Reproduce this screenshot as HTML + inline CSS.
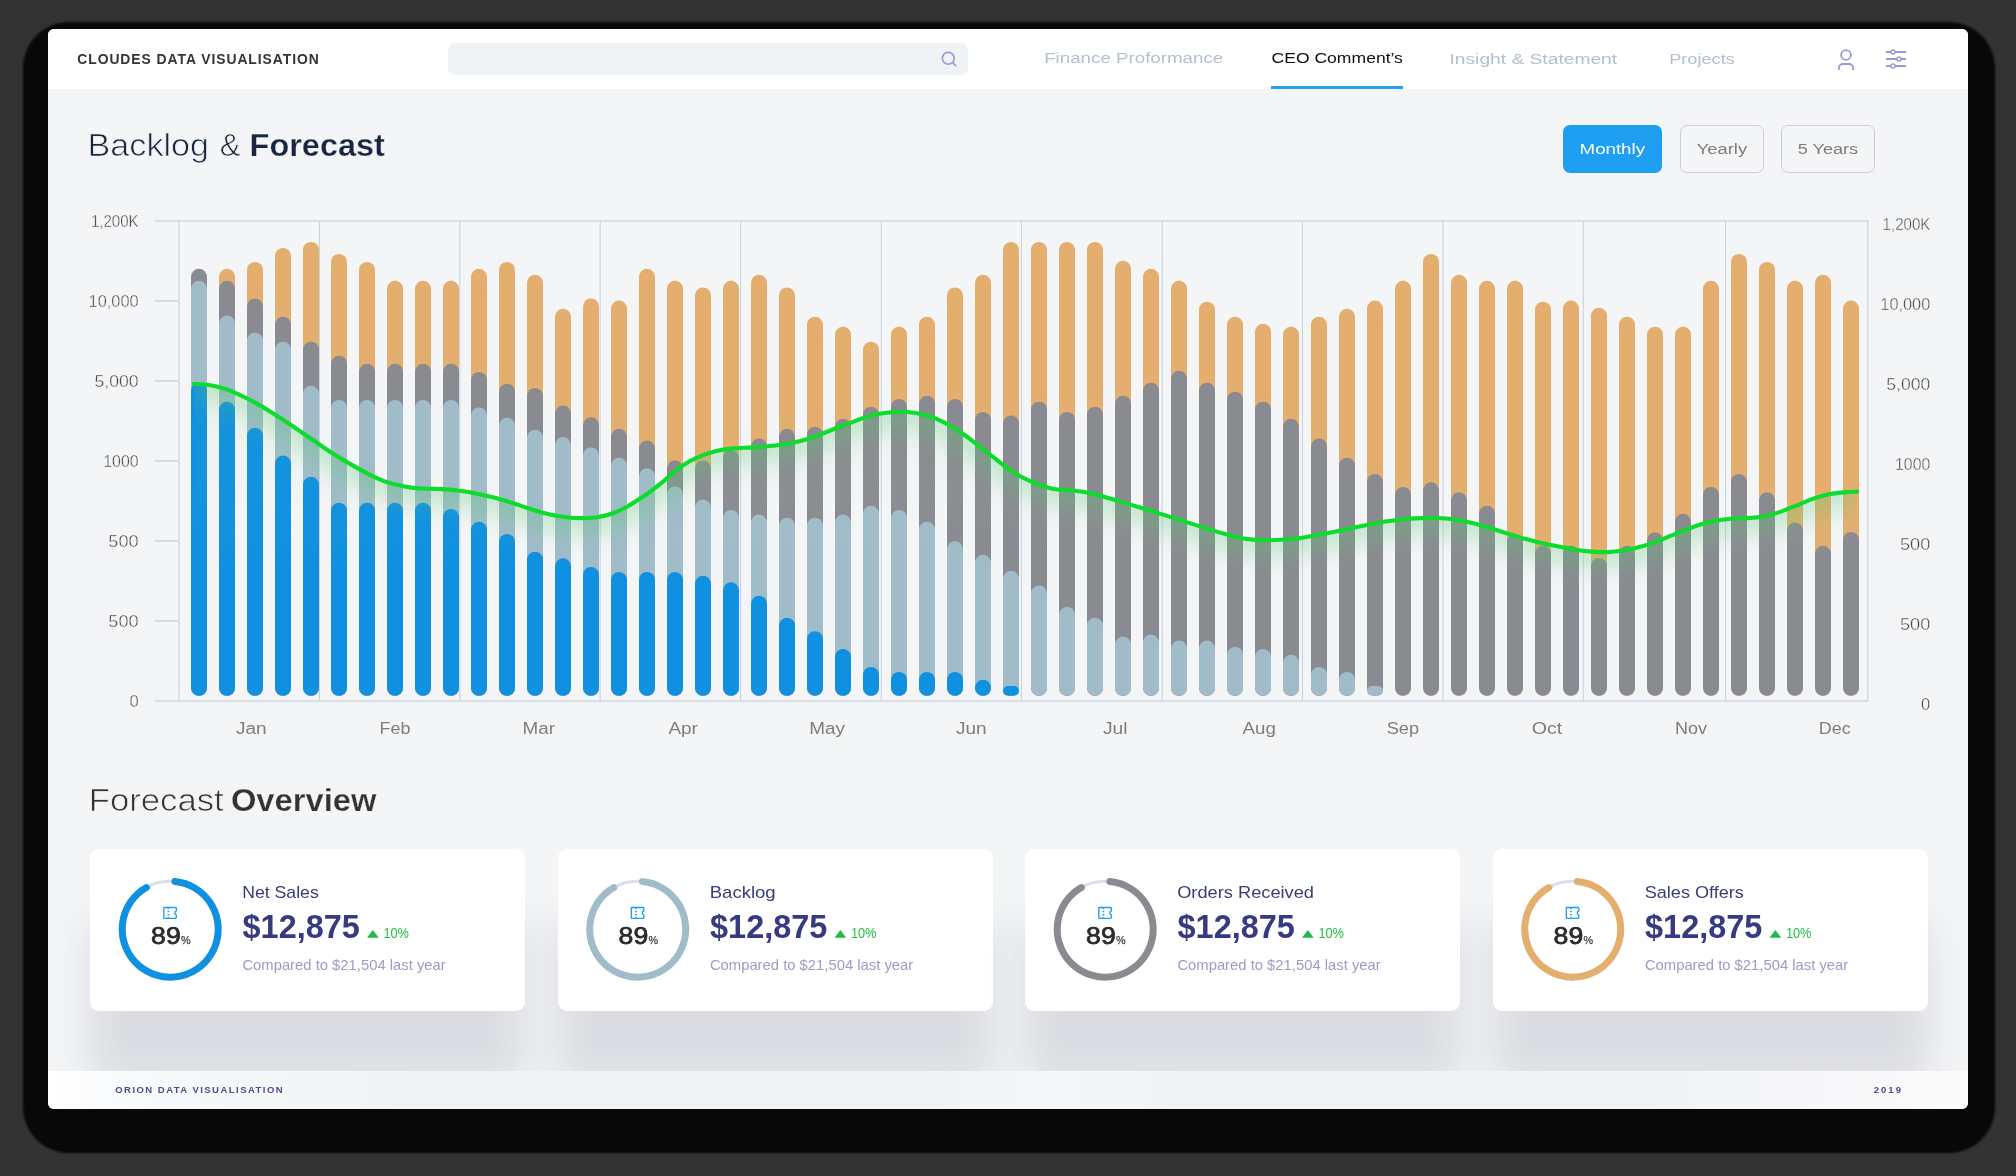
<!DOCTYPE html>
<html><head><meta charset="utf-8"><title>Cloudes Data Visualisation</title>
<style>
html,body{margin:0;padding:0}
body{width:2016px;height:1176px;background:#333;overflow:hidden;position:relative;font-family:"Liberation Sans",sans-serif}
#panel{position:absolute;left:48px;top:29px;width:1920px;height:1080px;background:#f4f5f7;border-radius:6px;overflow:hidden}
#shadow{position:absolute;left:22.5px;top:22px;width:1972px;height:1131px;border-radius:46px;background:#080808;filter:blur(1.2px)}
#hdr{position:absolute;left:0;top:0;width:1920px;height:60px;background:#fff}
#search{position:absolute;left:400px;top:14px;width:520px;height:32px;border-radius:7px;background:#eff3f6}
#uline{position:absolute;left:1223px;top:57px;width:132px;height:3px;background:#1da1f2}
.btn{position:absolute;top:96px;height:48px;border-radius:7px;box-sizing:border-box}
.card{position:absolute;top:820px;width:435px;height:161.5px;border-radius:9px;background:#fff;box-shadow:0 74px 40px 0 rgba(40,44,70,.125)}
#ftr{position:absolute;left:0;top:1042px;width:1920px;height:38px;background:linear-gradient(90deg,#fff 0,#fafbfc 3%,#f6f7f9 8%,#f1f2f4 20%,#f1f2f4 45%,#f5f6f8 52%,#f1f2f4 60%,#f2f3f5 85%,#fbfbfc 100%)}
text{font-family:"Liberation Sans",sans-serif}
</style></head><body>
<div id="shadow"></div>
<div id="panel">
 <div id="hdr"></div>
 <div id="search"></div>
 <div id="uline"></div>
 <div class="btn" style="left:1515px;width:99px;background:#1e9ff2"></div>
 <div class="btn" style="left:1632px;width:84px;border:1.2px solid #cfcfd1"></div>
 <div class="btn" style="left:1733px;width:94px;border:1.2px solid #cfcfd1"></div>
 <div class="card" style="left:42px"></div>
 <div class="card" style="left:509.5px"></div>
 <div class="card" style="left:977px"></div>
 <div class="card" style="left:1444.5px"></div>
 <div id="ftr"></div>
</div>
<svg width="2016" height="1176" viewBox="0 0 2016 1176" style="position:absolute;left:0;top:0;will-change:transform">
<defs>
<clipPath id="ca"><path d="M193.9,383.9C196.4,384.1 203.2,384.2 208.7,385.1C214.2,386.0 221.3,387.7 226.7,389.4C232.1,391.1 236.2,393.3 240.9,395.5C245.6,397.7 250.4,400.0 255.1,402.6C259.8,405.2 264.6,408.0 269.3,410.9C274.0,413.8 278.8,416.9 283.5,420.0C288.2,423.1 293.0,426.4 297.7,429.6C302.4,432.8 307.2,436.1 311.9,439.3C316.6,442.5 321.3,445.9 326.0,449.0C330.7,452.1 335.5,455.1 340.2,458.0C344.9,460.9 349.7,463.7 354.4,466.4C359.1,469.1 363.9,471.7 368.6,474.1C373.3,476.5 378.1,478.8 382.8,480.6C387.5,482.4 392.3,483.6 397.0,484.8C401.7,486.0 406.0,487.0 411.2,487.6C416.4,488.2 423.2,488.4 428.4,488.7C433.6,488.9 437.9,488.8 442.6,489.1C447.3,489.4 452.0,489.8 456.7,490.4C461.4,491.0 466.2,491.6 470.9,492.5C475.6,493.4 480.4,494.4 485.1,495.5C489.8,496.6 494.6,497.7 499.3,499.0C504.0,500.3 508.8,501.8 513.5,503.3C518.2,504.8 523.0,506.5 527.7,508.0C532.4,509.5 537.2,511.2 541.9,512.5C546.6,513.8 551.3,514.9 556.0,515.8C560.7,516.7 565.5,517.3 570.2,517.7C574.9,518.1 579.7,518.2 584.4,518.1C589.1,518.0 593.9,517.8 598.6,517.0C603.3,516.2 608.1,514.9 612.8,513.2C617.5,511.5 622.3,509.3 627.0,506.7C631.7,504.1 637.9,499.8 641.2,497.7C644.5,495.6 643.7,496.4 647.0,494.0C650.3,491.6 656.5,487.1 661.2,483.2C665.9,479.3 670.7,474.5 675.4,470.9C680.1,467.2 685.0,463.9 689.6,461.3C694.2,458.7 698.5,456.9 703.1,455.1C707.7,453.3 712.7,451.8 717.3,450.7C721.9,449.6 726.1,449.1 730.9,448.6C735.7,448.1 741.6,447.9 746.3,447.7C751.0,447.4 754.9,447.4 759.2,447.1C763.5,446.8 768.1,446.2 772.1,445.8C776.1,445.4 779.3,445.2 783.0,444.6C786.7,444.1 790.0,443.5 794.2,442.5C798.4,441.5 803.7,440.2 808.4,438.7C813.1,437.2 817.9,435.3 822.6,433.5C827.3,431.7 832.0,429.8 836.7,428.0C841.4,426.2 846.2,424.4 850.9,422.6C855.6,420.8 860.4,418.9 865.1,417.4C869.8,415.9 874.6,414.7 879.3,413.8C884.0,412.9 888.8,412.3 893.5,412.0C898.2,411.7 903.0,411.6 907.7,412.0C912.4,412.4 917.2,413.1 921.9,414.2C926.6,415.3 931.3,416.8 936.0,418.7C940.7,420.6 945.5,423.1 950.2,425.8C954.9,428.5 959.7,431.5 964.4,434.8C969.1,438.1 973.9,442.2 978.6,445.8C983.3,449.4 988.1,453.1 992.8,456.7C997.5,460.3 1002.3,464.4 1007.0,467.7C1011.7,471.0 1016.5,474.1 1021.2,476.7C1025.9,479.3 1030.5,481.3 1035.3,483.2C1040.1,485.1 1046.3,487.1 1050.3,488.2C1054.3,489.3 1056.3,489.3 1059.3,489.6C1062.3,489.9 1064.5,489.8 1068.4,490.2C1072.3,490.6 1077.9,491.0 1082.6,491.8C1087.3,492.6 1092.0,493.7 1096.7,494.8C1101.4,495.9 1106.2,497.4 1110.9,498.7C1115.6,500.0 1120.4,501.5 1125.1,502.9C1129.8,504.3 1134.6,505.9 1139.3,507.3C1144.0,508.8 1148.8,510.1 1153.5,511.6C1158.2,513.1 1163.0,514.6 1167.7,516.1C1172.4,517.6 1177.2,519.1 1181.9,520.6C1186.6,522.1 1191.3,523.6 1196.0,525.1C1200.7,526.6 1205.5,528.2 1210.2,529.6C1214.9,531.0 1219.7,532.5 1224.4,533.8C1229.1,535.1 1233.9,536.4 1238.6,537.4C1243.3,538.4 1248.1,539.1 1252.8,539.6C1257.5,540.1 1262.3,540.3 1267.0,540.3C1271.7,540.3 1275.7,540.1 1281.2,539.7C1286.7,539.3 1294.5,538.7 1300.0,538.0C1305.5,537.3 1309.5,536.2 1314.2,535.4C1318.9,534.5 1323.7,533.8 1328.4,532.9C1333.1,532.0 1337.9,531.0 1342.6,530.0C1347.3,529.0 1352.0,528.1 1356.7,527.1C1361.4,526.1 1366.2,525.1 1370.9,524.2C1375.6,523.3 1380.4,522.4 1385.1,521.6C1389.8,520.9 1394.6,520.2 1399.3,519.7C1404.0,519.2 1408.8,518.7 1413.5,518.4C1418.2,518.1 1423.0,518.0 1427.7,518.0C1432.4,518.0 1437.2,518.0 1441.9,518.3C1446.6,518.6 1451.3,519.0 1456.0,519.7C1460.7,520.4 1465.5,521.4 1470.2,522.5C1474.9,523.6 1479.7,525.0 1484.4,526.4C1489.1,527.8 1493.9,529.2 1498.6,530.7C1503.3,532.2 1508.1,533.7 1512.8,535.1C1517.5,536.5 1522.3,538.0 1527.0,539.3C1531.7,540.6 1535.7,541.7 1541.2,542.9C1546.7,544.1 1554.2,545.6 1560.0,546.7C1565.8,547.8 1570.6,548.9 1575.9,549.7C1581.2,550.5 1586.4,551.2 1591.7,551.6C1597.0,552.0 1602.3,552.3 1607.6,552.1C1612.9,551.9 1618.2,551.3 1623.5,550.5C1628.8,549.7 1634.1,548.5 1639.4,547.1C1644.7,545.7 1649.9,544.0 1655.2,542.1C1660.5,540.2 1665.8,537.8 1671.1,535.7C1676.4,533.6 1681.7,531.4 1687.0,529.4C1692.3,527.4 1697.6,525.3 1702.9,523.8C1708.2,522.3 1713.4,521.1 1718.7,520.2C1724.0,519.3 1729.3,519.0 1734.6,518.6C1739.9,518.2 1745.2,518.4 1750.5,517.9C1755.8,517.4 1761.0,517.0 1766.3,515.9C1771.6,514.8 1776.9,513.0 1782.2,511.1C1787.5,509.2 1792.8,506.9 1798.1,504.8C1803.4,502.7 1808.7,500.2 1814.0,498.4C1819.3,496.6 1824.5,495.2 1829.8,494.1C1835.1,493.1 1841.2,492.5 1845.7,492.1C1850.2,491.7 1855.1,491.7 1857.0,491.6L1857,700L193.9,700Z"/></clipPath>
<filter id="bl" x="-5%" y="-50%" width="110%" height="250%"><feGaussianBlur stdDeviation="12"/></filter>
<linearGradient id="ag" x1="0" y1="380" x2="0" y2="700" gradientUnits="userSpaceOnUse"><stop offset="0" stop-color="#58c474" stop-opacity=".06"/><stop offset=".6" stop-color="#e8f2ec" stop-opacity=".0"/></linearGradient>
</defs>
<g stroke="#cfd7e6" stroke-width="1.6" fill="none">
<path d="M155,221H1868.5M155,701H1868.5"/>
<path d="M155,301H179"/>
<path d="M155,381H179"/>
<path d="M155,461H179"/>
<path d="M155,541H179"/>
<path d="M155,621H179"/>
</g>
<g stroke="#c6d0e2" stroke-width="1" fill="none">
<path d="M179.0,221V701"/>
<path d="M319.4,221V701"/>
<path d="M459.8,221V701"/>
<path d="M600.2,221V701"/>
<path d="M740.6,221V701"/>
<path d="M881.2,221V701"/>
<path d="M1021.4,221V701"/>
<path d="M1162.2,221V701"/>
<path d="M1302.4,221V701"/>
<path d="M1443.0,221V701"/>
<path d="M1583.3,221V701"/>
<path d="M1725.6,221V701"/>
<path d="M1867.8,221V701"/>
</g>
<rect x="219.0" y="268.8" width="16" height="427.0" rx="8.0" fill="#e3ae6e"/>
<rect x="247.0" y="261.9" width="16" height="433.9" rx="8.0" fill="#e3ae6e"/>
<rect x="275.0" y="247.9" width="16" height="447.9" rx="8.0" fill="#e3ae6e"/>
<rect x="303.0" y="241.9" width="16" height="453.9" rx="8.0" fill="#e3ae6e"/>
<rect x="331.0" y="254.0" width="16" height="441.8" rx="8.0" fill="#e3ae6e"/>
<rect x="359.0" y="261.9" width="16" height="433.9" rx="8.0" fill="#e3ae6e"/>
<rect x="387.0" y="280.8" width="16" height="415.0" rx="8.0" fill="#e3ae6e"/>
<rect x="415.0" y="280.8" width="16" height="415.0" rx="8.0" fill="#e3ae6e"/>
<rect x="443.0" y="280.8" width="16" height="415.0" rx="8.0" fill="#e3ae6e"/>
<rect x="471.0" y="268.8" width="16" height="427.0" rx="8.0" fill="#e3ae6e"/>
<rect x="499.0" y="261.9" width="16" height="433.9" rx="8.0" fill="#e3ae6e"/>
<rect x="527.0" y="274.8" width="16" height="421.0" rx="8.0" fill="#e3ae6e"/>
<rect x="555.0" y="308.8" width="16" height="387.0" rx="8.0" fill="#e3ae6e"/>
<rect x="583.0" y="298.5" width="16" height="397.3" rx="8.0" fill="#e3ae6e"/>
<rect x="611.0" y="300.6" width="16" height="395.2" rx="8.0" fill="#e3ae6e"/>
<rect x="639.0" y="268.8" width="16" height="427.0" rx="8.0" fill="#e3ae6e"/>
<rect x="667.0" y="280.8" width="16" height="415.0" rx="8.0" fill="#e3ae6e"/>
<rect x="695.0" y="287.5" width="16" height="408.3" rx="8.0" fill="#e3ae6e"/>
<rect x="723.0" y="280.8" width="16" height="415.0" rx="8.0" fill="#e3ae6e"/>
<rect x="751.0" y="274.8" width="16" height="421.0" rx="8.0" fill="#e3ae6e"/>
<rect x="779.0" y="287.5" width="16" height="408.3" rx="8.0" fill="#e3ae6e"/>
<rect x="807.0" y="316.7" width="16" height="379.1" rx="8.0" fill="#e3ae6e"/>
<rect x="835.0" y="326.7" width="16" height="369.1" rx="8.0" fill="#e3ae6e"/>
<rect x="863.0" y="341.7" width="16" height="354.1" rx="8.0" fill="#e3ae6e"/>
<rect x="891.0" y="326.7" width="16" height="369.1" rx="8.0" fill="#e3ae6e"/>
<rect x="919.0" y="316.7" width="16" height="379.1" rx="8.0" fill="#e3ae6e"/>
<rect x="947.0" y="287.5" width="16" height="408.3" rx="8.0" fill="#e3ae6e"/>
<rect x="975.0" y="274.8" width="16" height="421.0" rx="8.0" fill="#e3ae6e"/>
<rect x="1003.0" y="241.9" width="16" height="453.9" rx="8.0" fill="#e3ae6e"/>
<rect x="1031.0" y="241.9" width="16" height="453.9" rx="8.0" fill="#e3ae6e"/>
<rect x="1059.0" y="241.9" width="16" height="453.9" rx="8.0" fill="#e3ae6e"/>
<rect x="1087.0" y="241.9" width="16" height="453.9" rx="8.0" fill="#e3ae6e"/>
<rect x="1115.0" y="260.8" width="16" height="435.0" rx="8.0" fill="#e3ae6e"/>
<rect x="1143.0" y="268.8" width="16" height="427.0" rx="8.0" fill="#e3ae6e"/>
<rect x="1171.0" y="280.8" width="16" height="415.0" rx="8.0" fill="#e3ae6e"/>
<rect x="1199.0" y="301.7" width="16" height="394.1" rx="8.0" fill="#e3ae6e"/>
<rect x="1227.0" y="316.7" width="16" height="379.1" rx="8.0" fill="#e3ae6e"/>
<rect x="1255.0" y="323.8" width="16" height="372.0" rx="8.0" fill="#e3ae6e"/>
<rect x="1283.0" y="326.7" width="16" height="369.1" rx="8.0" fill="#e3ae6e"/>
<rect x="1311.0" y="316.7" width="16" height="379.1" rx="8.0" fill="#e3ae6e"/>
<rect x="1339.0" y="308.8" width="16" height="387.0" rx="8.0" fill="#e3ae6e"/>
<rect x="1367.0" y="300.6" width="16" height="395.2" rx="8.0" fill="#e3ae6e"/>
<rect x="1395.0" y="280.8" width="16" height="415.0" rx="8.0" fill="#e3ae6e"/>
<rect x="1423.0" y="254.0" width="16" height="441.8" rx="8.0" fill="#e3ae6e"/>
<rect x="1451.0" y="274.8" width="16" height="421.0" rx="8.0" fill="#e3ae6e"/>
<rect x="1479.0" y="280.8" width="16" height="415.0" rx="8.0" fill="#e3ae6e"/>
<rect x="1507.0" y="280.8" width="16" height="415.0" rx="8.0" fill="#e3ae6e"/>
<rect x="1535.0" y="301.7" width="16" height="394.1" rx="8.0" fill="#e3ae6e"/>
<rect x="1563.0" y="300.6" width="16" height="395.2" rx="8.0" fill="#e3ae6e"/>
<rect x="1591.0" y="307.7" width="16" height="388.1" rx="8.0" fill="#e3ae6e"/>
<rect x="1619.0" y="316.7" width="16" height="379.1" rx="8.0" fill="#e3ae6e"/>
<rect x="1647.0" y="326.7" width="16" height="369.1" rx="8.0" fill="#e3ae6e"/>
<rect x="1675.0" y="326.7" width="16" height="369.1" rx="8.0" fill="#e3ae6e"/>
<rect x="1703.0" y="280.8" width="16" height="415.0" rx="8.0" fill="#e3ae6e"/>
<rect x="1731.0" y="254.0" width="16" height="441.8" rx="8.0" fill="#e3ae6e"/>
<rect x="1759.0" y="261.9" width="16" height="433.9" rx="8.0" fill="#e3ae6e"/>
<rect x="1787.0" y="280.8" width="16" height="415.0" rx="8.0" fill="#e3ae6e"/>
<rect x="1815.0" y="274.8" width="16" height="421.0" rx="8.0" fill="#e3ae6e"/>
<rect x="1843.0" y="300.6" width="16" height="395.2" rx="8.0" fill="#e3ae6e"/>
<rect x="191.0" y="268.8" width="16" height="427.0" rx="8.0" fill="#8a8b91"/>
<rect x="219.0" y="280.8" width="16" height="415.0" rx="8.0" fill="#8a8b91"/>
<rect x="247.0" y="298.5" width="16" height="397.3" rx="8.0" fill="#8a8b91"/>
<rect x="275.0" y="316.7" width="16" height="379.1" rx="8.0" fill="#8a8b91"/>
<rect x="303.0" y="341.7" width="16" height="354.1" rx="8.0" fill="#8a8b91"/>
<rect x="331.0" y="355.8" width="16" height="340.0" rx="8.0" fill="#8a8b91"/>
<rect x="359.0" y="363.8" width="16" height="332.0" rx="8.0" fill="#8a8b91"/>
<rect x="387.0" y="363.8" width="16" height="332.0" rx="8.0" fill="#8a8b91"/>
<rect x="415.0" y="363.8" width="16" height="332.0" rx="8.0" fill="#8a8b91"/>
<rect x="443.0" y="363.8" width="16" height="332.0" rx="8.0" fill="#8a8b91"/>
<rect x="471.0" y="371.9" width="16" height="323.9" rx="8.0" fill="#8a8b91"/>
<rect x="499.0" y="383.8" width="16" height="312.0" rx="8.0" fill="#8a8b91"/>
<rect x="527.0" y="387.9" width="16" height="307.9" rx="8.0" fill="#8a8b91"/>
<rect x="555.0" y="405.6" width="16" height="290.2" rx="8.0" fill="#8a8b91"/>
<rect x="583.0" y="417.3" width="16" height="278.5" rx="8.0" fill="#8a8b91"/>
<rect x="611.0" y="428.8" width="16" height="267.0" rx="8.0" fill="#8a8b91"/>
<rect x="639.0" y="440.6" width="16" height="255.2" rx="8.0" fill="#8a8b91"/>
<rect x="667.0" y="460.4" width="16" height="235.4" rx="8.0" fill="#8a8b91"/>
<rect x="695.0" y="460.4" width="16" height="235.4" rx="8.0" fill="#8a8b91"/>
<rect x="723.0" y="450.0" width="16" height="245.8" rx="8.0" fill="#8a8b91"/>
<rect x="751.0" y="438.5" width="16" height="257.3" rx="8.0" fill="#8a8b91"/>
<rect x="779.0" y="428.8" width="16" height="267.0" rx="8.0" fill="#8a8b91"/>
<rect x="807.0" y="426.7" width="16" height="269.1" rx="8.0" fill="#8a8b91"/>
<rect x="835.0" y="418.8" width="16" height="277.0" rx="8.0" fill="#8a8b91"/>
<rect x="863.0" y="406.7" width="16" height="289.1" rx="8.0" fill="#8a8b91"/>
<rect x="891.0" y="399.0" width="16" height="296.8" rx="8.0" fill="#8a8b91"/>
<rect x="919.0" y="395.8" width="16" height="300.0" rx="8.0" fill="#8a8b91"/>
<rect x="947.0" y="399.0" width="16" height="296.8" rx="8.0" fill="#8a8b91"/>
<rect x="975.0" y="411.9" width="16" height="283.9" rx="8.0" fill="#8a8b91"/>
<rect x="1003.0" y="415.6" width="16" height="280.2" rx="8.0" fill="#8a8b91"/>
<rect x="1031.0" y="401.7" width="16" height="294.1" rx="8.0" fill="#8a8b91"/>
<rect x="1059.0" y="411.9" width="16" height="283.9" rx="8.0" fill="#8a8b91"/>
<rect x="1087.0" y="406.7" width="16" height="289.1" rx="8.0" fill="#8a8b91"/>
<rect x="1115.0" y="395.8" width="16" height="300.0" rx="8.0" fill="#8a8b91"/>
<rect x="1143.0" y="382.7" width="16" height="313.1" rx="8.0" fill="#8a8b91"/>
<rect x="1171.0" y="370.8" width="16" height="325.0" rx="8.0" fill="#8a8b91"/>
<rect x="1199.0" y="382.7" width="16" height="313.1" rx="8.0" fill="#8a8b91"/>
<rect x="1227.0" y="391.7" width="16" height="304.1" rx="8.0" fill="#8a8b91"/>
<rect x="1255.0" y="401.7" width="16" height="294.1" rx="8.0" fill="#8a8b91"/>
<rect x="1283.0" y="418.8" width="16" height="277.0" rx="8.0" fill="#8a8b91"/>
<rect x="1311.0" y="438.5" width="16" height="257.3" rx="8.0" fill="#8a8b91"/>
<rect x="1339.0" y="457.7" width="16" height="238.1" rx="8.0" fill="#8a8b91"/>
<rect x="1367.0" y="474.0" width="16" height="221.8" rx="8.0" fill="#8a8b91"/>
<rect x="1395.0" y="487.0" width="16" height="208.8" rx="8.0" fill="#8a8b91"/>
<rect x="1423.0" y="482.3" width="16" height="213.5" rx="8.0" fill="#8a8b91"/>
<rect x="1451.0" y="492.3" width="16" height="203.5" rx="8.0" fill="#8a8b91"/>
<rect x="1479.0" y="505.8" width="16" height="190.0" rx="8.0" fill="#8a8b91"/>
<rect x="1507.0" y="534.0" width="16" height="161.8" rx="8.0" fill="#8a8b91"/>
<rect x="1535.0" y="545.8" width="16" height="150.0" rx="8.0" fill="#8a8b91"/>
<rect x="1563.0" y="545.8" width="16" height="150.0" rx="8.0" fill="#8a8b91"/>
<rect x="1591.0" y="558.0" width="16" height="137.8" rx="8.0" fill="#8a8b91"/>
<rect x="1619.0" y="545.8" width="16" height="150.0" rx="8.0" fill="#8a8b91"/>
<rect x="1647.0" y="532.3" width="16" height="163.5" rx="8.0" fill="#8a8b91"/>
<rect x="1675.0" y="513.8" width="16" height="182.0" rx="8.0" fill="#8a8b91"/>
<rect x="1703.0" y="487.0" width="16" height="208.8" rx="8.0" fill="#8a8b91"/>
<rect x="1731.0" y="474.0" width="16" height="221.8" rx="8.0" fill="#8a8b91"/>
<rect x="1759.0" y="492.3" width="16" height="203.5" rx="8.0" fill="#8a8b91"/>
<rect x="1787.0" y="522.5" width="16" height="173.3" rx="8.0" fill="#8a8b91"/>
<rect x="1815.0" y="545.8" width="16" height="150.0" rx="8.0" fill="#8a8b91"/>
<rect x="1843.0" y="531.9" width="16" height="163.9" rx="8.0" fill="#8a8b91"/>
<rect x="191.0" y="280.8" width="16" height="415.0" rx="8.0" fill="#a0bcc8"/>
<rect x="219.0" y="315.6" width="16" height="380.2" rx="8.0" fill="#a0bcc8"/>
<rect x="247.0" y="332.7" width="16" height="363.1" rx="8.0" fill="#a0bcc8"/>
<rect x="275.0" y="341.7" width="16" height="354.1" rx="8.0" fill="#a0bcc8"/>
<rect x="303.0" y="385.8" width="16" height="310.0" rx="8.0" fill="#a0bcc8"/>
<rect x="331.0" y="400.0" width="16" height="295.8" rx="8.0" fill="#a0bcc8"/>
<rect x="359.0" y="400.0" width="16" height="295.8" rx="8.0" fill="#a0bcc8"/>
<rect x="387.0" y="400.0" width="16" height="295.8" rx="8.0" fill="#a0bcc8"/>
<rect x="415.0" y="400.0" width="16" height="295.8" rx="8.0" fill="#a0bcc8"/>
<rect x="443.0" y="400.0" width="16" height="295.8" rx="8.0" fill="#a0bcc8"/>
<rect x="471.0" y="407.5" width="16" height="288.3" rx="8.0" fill="#a0bcc8"/>
<rect x="499.0" y="417.7" width="16" height="278.1" rx="8.0" fill="#a0bcc8"/>
<rect x="527.0" y="429.8" width="16" height="266.0" rx="8.0" fill="#a0bcc8"/>
<rect x="555.0" y="437.1" width="16" height="258.7" rx="8.0" fill="#a0bcc8"/>
<rect x="583.0" y="447.5" width="16" height="248.3" rx="8.0" fill="#a0bcc8"/>
<rect x="611.0" y="457.7" width="16" height="238.1" rx="8.0" fill="#a0bcc8"/>
<rect x="639.0" y="468.3" width="16" height="227.5" rx="8.0" fill="#a0bcc8"/>
<rect x="667.0" y="486.5" width="16" height="209.3" rx="8.0" fill="#a0bcc8"/>
<rect x="695.0" y="499.6" width="16" height="196.2" rx="8.0" fill="#a0bcc8"/>
<rect x="723.0" y="510.0" width="16" height="185.8" rx="8.0" fill="#a0bcc8"/>
<rect x="751.0" y="514.6" width="16" height="181.2" rx="8.0" fill="#a0bcc8"/>
<rect x="779.0" y="517.7" width="16" height="178.1" rx="8.0" fill="#a0bcc8"/>
<rect x="807.0" y="517.7" width="16" height="178.1" rx="8.0" fill="#a0bcc8"/>
<rect x="835.0" y="514.6" width="16" height="181.2" rx="8.0" fill="#a0bcc8"/>
<rect x="863.0" y="505.8" width="16" height="190.0" rx="8.0" fill="#a0bcc8"/>
<rect x="891.0" y="510.0" width="16" height="185.8" rx="8.0" fill="#a0bcc8"/>
<rect x="919.0" y="521.7" width="16" height="174.1" rx="8.0" fill="#a0bcc8"/>
<rect x="947.0" y="541.2" width="16" height="154.5" rx="8.0" fill="#a0bcc8"/>
<rect x="975.0" y="554.8" width="16" height="141.0" rx="8.0" fill="#a0bcc8"/>
<rect x="1003.0" y="570.8" width="16" height="125.0" rx="8.0" fill="#a0bcc8"/>
<rect x="1031.0" y="585.6" width="16" height="110.2" rx="8.0" fill="#a0bcc8"/>
<rect x="1059.0" y="606.9" width="16" height="88.9" rx="8.0" fill="#a0bcc8"/>
<rect x="1087.0" y="617.7" width="16" height="78.1" rx="8.0" fill="#a0bcc8"/>
<rect x="1115.0" y="636.7" width="16" height="59.1" rx="8.0" fill="#a0bcc8"/>
<rect x="1143.0" y="634.6" width="16" height="61.2" rx="8.0" fill="#a0bcc8"/>
<rect x="1171.0" y="640.6" width="16" height="55.2" rx="8.0" fill="#a0bcc8"/>
<rect x="1199.0" y="640.6" width="16" height="55.2" rx="8.0" fill="#a0bcc8"/>
<rect x="1227.0" y="646.9" width="16" height="48.9" rx="8.0" fill="#a0bcc8"/>
<rect x="1255.0" y="649.0" width="16" height="46.8" rx="8.0" fill="#a0bcc8"/>
<rect x="1283.0" y="654.8" width="16" height="41.0" rx="8.0" fill="#a0bcc8"/>
<rect x="1311.0" y="666.9" width="16" height="28.9" rx="8.0" fill="#a0bcc8"/>
<rect x="1339.0" y="671.9" width="16" height="23.9" rx="8.0" fill="#a0bcc8"/>
<rect x="1367.0" y="686.0" width="16" height="9.8" rx="4.9" fill="#a0bcc8"/>
<rect x="191.0" y="383.0" width="16" height="312.8" rx="8.0" fill="#0f90e0"/>
<rect x="219.0" y="401.7" width="16" height="294.1" rx="8.0" fill="#0f90e0"/>
<rect x="247.0" y="427.7" width="16" height="268.1" rx="8.0" fill="#0f90e0"/>
<rect x="275.0" y="455.6" width="16" height="240.2" rx="8.0" fill="#0f90e0"/>
<rect x="303.0" y="476.7" width="16" height="219.1" rx="8.0" fill="#0f90e0"/>
<rect x="331.0" y="502.7" width="16" height="193.1" rx="8.0" fill="#0f90e0"/>
<rect x="359.0" y="502.7" width="16" height="193.1" rx="8.0" fill="#0f90e0"/>
<rect x="387.0" y="502.7" width="16" height="193.1" rx="8.0" fill="#0f90e0"/>
<rect x="415.0" y="502.7" width="16" height="193.1" rx="8.0" fill="#0f90e0"/>
<rect x="443.0" y="509.0" width="16" height="186.8" rx="8.0" fill="#0f90e0"/>
<rect x="471.0" y="521.7" width="16" height="174.1" rx="8.0" fill="#0f90e0"/>
<rect x="499.0" y="534.0" width="16" height="161.8" rx="8.0" fill="#0f90e0"/>
<rect x="527.0" y="551.7" width="16" height="144.1" rx="8.0" fill="#0f90e0"/>
<rect x="555.0" y="558.3" width="16" height="137.5" rx="8.0" fill="#0f90e0"/>
<rect x="583.0" y="566.9" width="16" height="128.9" rx="8.0" fill="#0f90e0"/>
<rect x="611.0" y="571.9" width="16" height="123.9" rx="8.0" fill="#0f90e0"/>
<rect x="639.0" y="571.9" width="16" height="123.9" rx="8.0" fill="#0f90e0"/>
<rect x="667.0" y="571.9" width="16" height="123.9" rx="8.0" fill="#0f90e0"/>
<rect x="695.0" y="575.8" width="16" height="120.0" rx="8.0" fill="#0f90e0"/>
<rect x="723.0" y="582.3" width="16" height="113.5" rx="8.0" fill="#0f90e0"/>
<rect x="751.0" y="595.8" width="16" height="100.0" rx="8.0" fill="#0f90e0"/>
<rect x="779.0" y="617.7" width="16" height="78.1" rx="8.0" fill="#0f90e0"/>
<rect x="807.0" y="631.2" width="16" height="64.5" rx="8.0" fill="#0f90e0"/>
<rect x="835.0" y="649.0" width="16" height="46.8" rx="8.0" fill="#0f90e0"/>
<rect x="863.0" y="666.9" width="16" height="28.9" rx="8.0" fill="#0f90e0"/>
<rect x="891.0" y="671.9" width="16" height="23.9" rx="8.0" fill="#0f90e0"/>
<rect x="919.0" y="671.9" width="16" height="23.9" rx="8.0" fill="#0f90e0"/>
<rect x="947.0" y="671.9" width="16" height="23.9" rx="8.0" fill="#0f90e0"/>
<rect x="975.0" y="679.8" width="16" height="16.0" rx="8.0" fill="#0f90e0"/>
<rect x="1003.0" y="686.0" width="16" height="9.8" rx="4.9" fill="#0f90e0"/>
<g clip-path="url(#ca)">
<path d="M193.9,383.9C196.4,384.1 203.2,384.2 208.7,385.1C214.2,386.0 221.3,387.7 226.7,389.4C232.1,391.1 236.2,393.3 240.9,395.5C245.6,397.7 250.4,400.0 255.1,402.6C259.8,405.2 264.6,408.0 269.3,410.9C274.0,413.8 278.8,416.9 283.5,420.0C288.2,423.1 293.0,426.4 297.7,429.6C302.4,432.8 307.2,436.1 311.9,439.3C316.6,442.5 321.3,445.9 326.0,449.0C330.7,452.1 335.5,455.1 340.2,458.0C344.9,460.9 349.7,463.7 354.4,466.4C359.1,469.1 363.9,471.7 368.6,474.1C373.3,476.5 378.1,478.8 382.8,480.6C387.5,482.4 392.3,483.6 397.0,484.8C401.7,486.0 406.0,487.0 411.2,487.6C416.4,488.2 423.2,488.4 428.4,488.7C433.6,488.9 437.9,488.8 442.6,489.1C447.3,489.4 452.0,489.8 456.7,490.4C461.4,491.0 466.2,491.6 470.9,492.5C475.6,493.4 480.4,494.4 485.1,495.5C489.8,496.6 494.6,497.7 499.3,499.0C504.0,500.3 508.8,501.8 513.5,503.3C518.2,504.8 523.0,506.5 527.7,508.0C532.4,509.5 537.2,511.2 541.9,512.5C546.6,513.8 551.3,514.9 556.0,515.8C560.7,516.7 565.5,517.3 570.2,517.7C574.9,518.1 579.7,518.2 584.4,518.1C589.1,518.0 593.9,517.8 598.6,517.0C603.3,516.2 608.1,514.9 612.8,513.2C617.5,511.5 622.3,509.3 627.0,506.7C631.7,504.1 637.9,499.8 641.2,497.7C644.5,495.6 643.7,496.4 647.0,494.0C650.3,491.6 656.5,487.1 661.2,483.2C665.9,479.3 670.7,474.5 675.4,470.9C680.1,467.2 685.0,463.9 689.6,461.3C694.2,458.7 698.5,456.9 703.1,455.1C707.7,453.3 712.7,451.8 717.3,450.7C721.9,449.6 726.1,449.1 730.9,448.6C735.7,448.1 741.6,447.9 746.3,447.7C751.0,447.4 754.9,447.4 759.2,447.1C763.5,446.8 768.1,446.2 772.1,445.8C776.1,445.4 779.3,445.2 783.0,444.6C786.7,444.1 790.0,443.5 794.2,442.5C798.4,441.5 803.7,440.2 808.4,438.7C813.1,437.2 817.9,435.3 822.6,433.5C827.3,431.7 832.0,429.8 836.7,428.0C841.4,426.2 846.2,424.4 850.9,422.6C855.6,420.8 860.4,418.9 865.1,417.4C869.8,415.9 874.6,414.7 879.3,413.8C884.0,412.9 888.8,412.3 893.5,412.0C898.2,411.7 903.0,411.6 907.7,412.0C912.4,412.4 917.2,413.1 921.9,414.2C926.6,415.3 931.3,416.8 936.0,418.7C940.7,420.6 945.5,423.1 950.2,425.8C954.9,428.5 959.7,431.5 964.4,434.8C969.1,438.1 973.9,442.2 978.6,445.8C983.3,449.4 988.1,453.1 992.8,456.7C997.5,460.3 1002.3,464.4 1007.0,467.7C1011.7,471.0 1016.5,474.1 1021.2,476.7C1025.9,479.3 1030.5,481.3 1035.3,483.2C1040.1,485.1 1046.3,487.1 1050.3,488.2C1054.3,489.3 1056.3,489.3 1059.3,489.6C1062.3,489.9 1064.5,489.8 1068.4,490.2C1072.3,490.6 1077.9,491.0 1082.6,491.8C1087.3,492.6 1092.0,493.7 1096.7,494.8C1101.4,495.9 1106.2,497.4 1110.9,498.7C1115.6,500.0 1120.4,501.5 1125.1,502.9C1129.8,504.3 1134.6,505.9 1139.3,507.3C1144.0,508.8 1148.8,510.1 1153.5,511.6C1158.2,513.1 1163.0,514.6 1167.7,516.1C1172.4,517.6 1177.2,519.1 1181.9,520.6C1186.6,522.1 1191.3,523.6 1196.0,525.1C1200.7,526.6 1205.5,528.2 1210.2,529.6C1214.9,531.0 1219.7,532.5 1224.4,533.8C1229.1,535.1 1233.9,536.4 1238.6,537.4C1243.3,538.4 1248.1,539.1 1252.8,539.6C1257.5,540.1 1262.3,540.3 1267.0,540.3C1271.7,540.3 1275.7,540.1 1281.2,539.7C1286.7,539.3 1294.5,538.7 1300.0,538.0C1305.5,537.3 1309.5,536.2 1314.2,535.4C1318.9,534.5 1323.7,533.8 1328.4,532.9C1333.1,532.0 1337.9,531.0 1342.6,530.0C1347.3,529.0 1352.0,528.1 1356.7,527.1C1361.4,526.1 1366.2,525.1 1370.9,524.2C1375.6,523.3 1380.4,522.4 1385.1,521.6C1389.8,520.9 1394.6,520.2 1399.3,519.7C1404.0,519.2 1408.8,518.7 1413.5,518.4C1418.2,518.1 1423.0,518.0 1427.7,518.0C1432.4,518.0 1437.2,518.0 1441.9,518.3C1446.6,518.6 1451.3,519.0 1456.0,519.7C1460.7,520.4 1465.5,521.4 1470.2,522.5C1474.9,523.6 1479.7,525.0 1484.4,526.4C1489.1,527.8 1493.9,529.2 1498.6,530.7C1503.3,532.2 1508.1,533.7 1512.8,535.1C1517.5,536.5 1522.3,538.0 1527.0,539.3C1531.7,540.6 1535.7,541.7 1541.2,542.9C1546.7,544.1 1554.2,545.6 1560.0,546.7C1565.8,547.8 1570.6,548.9 1575.9,549.7C1581.2,550.5 1586.4,551.2 1591.7,551.6C1597.0,552.0 1602.3,552.3 1607.6,552.1C1612.9,551.9 1618.2,551.3 1623.5,550.5C1628.8,549.7 1634.1,548.5 1639.4,547.1C1644.7,545.7 1649.9,544.0 1655.2,542.1C1660.5,540.2 1665.8,537.8 1671.1,535.7C1676.4,533.6 1681.7,531.4 1687.0,529.4C1692.3,527.4 1697.6,525.3 1702.9,523.8C1708.2,522.3 1713.4,521.1 1718.7,520.2C1724.0,519.3 1729.3,519.0 1734.6,518.6C1739.9,518.2 1745.2,518.4 1750.5,517.9C1755.8,517.4 1761.0,517.0 1766.3,515.9C1771.6,514.8 1776.9,513.0 1782.2,511.1C1787.5,509.2 1792.8,506.9 1798.1,504.8C1803.4,502.7 1808.7,500.2 1814.0,498.4C1819.3,496.6 1824.5,495.2 1829.8,494.1C1835.1,493.1 1841.2,492.5 1845.7,492.1C1850.2,491.7 1855.1,491.7 1857.0,491.6L1857,700L193.9,700Z" fill="url(#ag)"/>
<path d="M193.9,383.9C196.4,384.1 203.2,384.2 208.7,385.1C214.2,386.0 221.3,387.7 226.7,389.4C232.1,391.1 236.2,393.3 240.9,395.5C245.6,397.7 250.4,400.0 255.1,402.6C259.8,405.2 264.6,408.0 269.3,410.9C274.0,413.8 278.8,416.9 283.5,420.0C288.2,423.1 293.0,426.4 297.7,429.6C302.4,432.8 307.2,436.1 311.9,439.3C316.6,442.5 321.3,445.9 326.0,449.0C330.7,452.1 335.5,455.1 340.2,458.0C344.9,460.9 349.7,463.7 354.4,466.4C359.1,469.1 363.9,471.7 368.6,474.1C373.3,476.5 378.1,478.8 382.8,480.6C387.5,482.4 392.3,483.6 397.0,484.8C401.7,486.0 406.0,487.0 411.2,487.6C416.4,488.2 423.2,488.4 428.4,488.7C433.6,488.9 437.9,488.8 442.6,489.1C447.3,489.4 452.0,489.8 456.7,490.4C461.4,491.0 466.2,491.6 470.9,492.5C475.6,493.4 480.4,494.4 485.1,495.5C489.8,496.6 494.6,497.7 499.3,499.0C504.0,500.3 508.8,501.8 513.5,503.3C518.2,504.8 523.0,506.5 527.7,508.0C532.4,509.5 537.2,511.2 541.9,512.5C546.6,513.8 551.3,514.9 556.0,515.8C560.7,516.7 565.5,517.3 570.2,517.7C574.9,518.1 579.7,518.2 584.4,518.1C589.1,518.0 593.9,517.8 598.6,517.0C603.3,516.2 608.1,514.9 612.8,513.2C617.5,511.5 622.3,509.3 627.0,506.7C631.7,504.1 637.9,499.8 641.2,497.7C644.5,495.6 643.7,496.4 647.0,494.0C650.3,491.6 656.5,487.1 661.2,483.2C665.9,479.3 670.7,474.5 675.4,470.9C680.1,467.2 685.0,463.9 689.6,461.3C694.2,458.7 698.5,456.9 703.1,455.1C707.7,453.3 712.7,451.8 717.3,450.7C721.9,449.6 726.1,449.1 730.9,448.6C735.7,448.1 741.6,447.9 746.3,447.7C751.0,447.4 754.9,447.4 759.2,447.1C763.5,446.8 768.1,446.2 772.1,445.8C776.1,445.4 779.3,445.2 783.0,444.6C786.7,444.1 790.0,443.5 794.2,442.5C798.4,441.5 803.7,440.2 808.4,438.7C813.1,437.2 817.9,435.3 822.6,433.5C827.3,431.7 832.0,429.8 836.7,428.0C841.4,426.2 846.2,424.4 850.9,422.6C855.6,420.8 860.4,418.9 865.1,417.4C869.8,415.9 874.6,414.7 879.3,413.8C884.0,412.9 888.8,412.3 893.5,412.0C898.2,411.7 903.0,411.6 907.7,412.0C912.4,412.4 917.2,413.1 921.9,414.2C926.6,415.3 931.3,416.8 936.0,418.7C940.7,420.6 945.5,423.1 950.2,425.8C954.9,428.5 959.7,431.5 964.4,434.8C969.1,438.1 973.9,442.2 978.6,445.8C983.3,449.4 988.1,453.1 992.8,456.7C997.5,460.3 1002.3,464.4 1007.0,467.7C1011.7,471.0 1016.5,474.1 1021.2,476.7C1025.9,479.3 1030.5,481.3 1035.3,483.2C1040.1,485.1 1046.3,487.1 1050.3,488.2C1054.3,489.3 1056.3,489.3 1059.3,489.6C1062.3,489.9 1064.5,489.8 1068.4,490.2C1072.3,490.6 1077.9,491.0 1082.6,491.8C1087.3,492.6 1092.0,493.7 1096.7,494.8C1101.4,495.9 1106.2,497.4 1110.9,498.7C1115.6,500.0 1120.4,501.5 1125.1,502.9C1129.8,504.3 1134.6,505.9 1139.3,507.3C1144.0,508.8 1148.8,510.1 1153.5,511.6C1158.2,513.1 1163.0,514.6 1167.7,516.1C1172.4,517.6 1177.2,519.1 1181.9,520.6C1186.6,522.1 1191.3,523.6 1196.0,525.1C1200.7,526.6 1205.5,528.2 1210.2,529.6C1214.9,531.0 1219.7,532.5 1224.4,533.8C1229.1,535.1 1233.9,536.4 1238.6,537.4C1243.3,538.4 1248.1,539.1 1252.8,539.6C1257.5,540.1 1262.3,540.3 1267.0,540.3C1271.7,540.3 1275.7,540.1 1281.2,539.7C1286.7,539.3 1294.5,538.7 1300.0,538.0C1305.5,537.3 1309.5,536.2 1314.2,535.4C1318.9,534.5 1323.7,533.8 1328.4,532.9C1333.1,532.0 1337.9,531.0 1342.6,530.0C1347.3,529.0 1352.0,528.1 1356.7,527.1C1361.4,526.1 1366.2,525.1 1370.9,524.2C1375.6,523.3 1380.4,522.4 1385.1,521.6C1389.8,520.9 1394.6,520.2 1399.3,519.7C1404.0,519.2 1408.8,518.7 1413.5,518.4C1418.2,518.1 1423.0,518.0 1427.7,518.0C1432.4,518.0 1437.2,518.0 1441.9,518.3C1446.6,518.6 1451.3,519.0 1456.0,519.7C1460.7,520.4 1465.5,521.4 1470.2,522.5C1474.9,523.6 1479.7,525.0 1484.4,526.4C1489.1,527.8 1493.9,529.2 1498.6,530.7C1503.3,532.2 1508.1,533.7 1512.8,535.1C1517.5,536.5 1522.3,538.0 1527.0,539.3C1531.7,540.6 1535.7,541.7 1541.2,542.9C1546.7,544.1 1554.2,545.6 1560.0,546.7C1565.8,547.8 1570.6,548.9 1575.9,549.7C1581.2,550.5 1586.4,551.2 1591.7,551.6C1597.0,552.0 1602.3,552.3 1607.6,552.1C1612.9,551.9 1618.2,551.3 1623.5,550.5C1628.8,549.7 1634.1,548.5 1639.4,547.1C1644.7,545.7 1649.9,544.0 1655.2,542.1C1660.5,540.2 1665.8,537.8 1671.1,535.7C1676.4,533.6 1681.7,531.4 1687.0,529.4C1692.3,527.4 1697.6,525.3 1702.9,523.8C1708.2,522.3 1713.4,521.1 1718.7,520.2C1724.0,519.3 1729.3,519.0 1734.6,518.6C1739.9,518.2 1745.2,518.4 1750.5,517.9C1755.8,517.4 1761.0,517.0 1766.3,515.9C1771.6,514.8 1776.9,513.0 1782.2,511.1C1787.5,509.2 1792.8,506.9 1798.1,504.8C1803.4,502.7 1808.7,500.2 1814.0,498.4C1819.3,496.6 1824.5,495.2 1829.8,494.1C1835.1,493.1 1841.2,492.5 1845.7,492.1C1850.2,491.7 1855.1,491.7 1857.0,491.6" fill="none" stroke="#56c572" stroke-opacity=".33" stroke-width="30" filter="url(#bl)"/>
</g>
<path d="M193.9,383.9C196.4,384.1 203.2,384.2 208.7,385.1C214.2,386.0 221.3,387.7 226.7,389.4C232.1,391.1 236.2,393.3 240.9,395.5C245.6,397.7 250.4,400.0 255.1,402.6C259.8,405.2 264.6,408.0 269.3,410.9C274.0,413.8 278.8,416.9 283.5,420.0C288.2,423.1 293.0,426.4 297.7,429.6C302.4,432.8 307.2,436.1 311.9,439.3C316.6,442.5 321.3,445.9 326.0,449.0C330.7,452.1 335.5,455.1 340.2,458.0C344.9,460.9 349.7,463.7 354.4,466.4C359.1,469.1 363.9,471.7 368.6,474.1C373.3,476.5 378.1,478.8 382.8,480.6C387.5,482.4 392.3,483.6 397.0,484.8C401.7,486.0 406.0,487.0 411.2,487.6C416.4,488.2 423.2,488.4 428.4,488.7C433.6,488.9 437.9,488.8 442.6,489.1C447.3,489.4 452.0,489.8 456.7,490.4C461.4,491.0 466.2,491.6 470.9,492.5C475.6,493.4 480.4,494.4 485.1,495.5C489.8,496.6 494.6,497.7 499.3,499.0C504.0,500.3 508.8,501.8 513.5,503.3C518.2,504.8 523.0,506.5 527.7,508.0C532.4,509.5 537.2,511.2 541.9,512.5C546.6,513.8 551.3,514.9 556.0,515.8C560.7,516.7 565.5,517.3 570.2,517.7C574.9,518.1 579.7,518.2 584.4,518.1C589.1,518.0 593.9,517.8 598.6,517.0C603.3,516.2 608.1,514.9 612.8,513.2C617.5,511.5 622.3,509.3 627.0,506.7C631.7,504.1 637.9,499.8 641.2,497.7C644.5,495.6 643.7,496.4 647.0,494.0C650.3,491.6 656.5,487.1 661.2,483.2C665.9,479.3 670.7,474.5 675.4,470.9C680.1,467.2 685.0,463.9 689.6,461.3C694.2,458.7 698.5,456.9 703.1,455.1C707.7,453.3 712.7,451.8 717.3,450.7C721.9,449.6 726.1,449.1 730.9,448.6C735.7,448.1 741.6,447.9 746.3,447.7C751.0,447.4 754.9,447.4 759.2,447.1C763.5,446.8 768.1,446.2 772.1,445.8C776.1,445.4 779.3,445.2 783.0,444.6C786.7,444.1 790.0,443.5 794.2,442.5C798.4,441.5 803.7,440.2 808.4,438.7C813.1,437.2 817.9,435.3 822.6,433.5C827.3,431.7 832.0,429.8 836.7,428.0C841.4,426.2 846.2,424.4 850.9,422.6C855.6,420.8 860.4,418.9 865.1,417.4C869.8,415.9 874.6,414.7 879.3,413.8C884.0,412.9 888.8,412.3 893.5,412.0C898.2,411.7 903.0,411.6 907.7,412.0C912.4,412.4 917.2,413.1 921.9,414.2C926.6,415.3 931.3,416.8 936.0,418.7C940.7,420.6 945.5,423.1 950.2,425.8C954.9,428.5 959.7,431.5 964.4,434.8C969.1,438.1 973.9,442.2 978.6,445.8C983.3,449.4 988.1,453.1 992.8,456.7C997.5,460.3 1002.3,464.4 1007.0,467.7C1011.7,471.0 1016.5,474.1 1021.2,476.7C1025.9,479.3 1030.5,481.3 1035.3,483.2C1040.1,485.1 1046.3,487.1 1050.3,488.2C1054.3,489.3 1056.3,489.3 1059.3,489.6C1062.3,489.9 1064.5,489.8 1068.4,490.2C1072.3,490.6 1077.9,491.0 1082.6,491.8C1087.3,492.6 1092.0,493.7 1096.7,494.8C1101.4,495.9 1106.2,497.4 1110.9,498.7C1115.6,500.0 1120.4,501.5 1125.1,502.9C1129.8,504.3 1134.6,505.9 1139.3,507.3C1144.0,508.8 1148.8,510.1 1153.5,511.6C1158.2,513.1 1163.0,514.6 1167.7,516.1C1172.4,517.6 1177.2,519.1 1181.9,520.6C1186.6,522.1 1191.3,523.6 1196.0,525.1C1200.7,526.6 1205.5,528.2 1210.2,529.6C1214.9,531.0 1219.7,532.5 1224.4,533.8C1229.1,535.1 1233.9,536.4 1238.6,537.4C1243.3,538.4 1248.1,539.1 1252.8,539.6C1257.5,540.1 1262.3,540.3 1267.0,540.3C1271.7,540.3 1275.7,540.1 1281.2,539.7C1286.7,539.3 1294.5,538.7 1300.0,538.0C1305.5,537.3 1309.5,536.2 1314.2,535.4C1318.9,534.5 1323.7,533.8 1328.4,532.9C1333.1,532.0 1337.9,531.0 1342.6,530.0C1347.3,529.0 1352.0,528.1 1356.7,527.1C1361.4,526.1 1366.2,525.1 1370.9,524.2C1375.6,523.3 1380.4,522.4 1385.1,521.6C1389.8,520.9 1394.6,520.2 1399.3,519.7C1404.0,519.2 1408.8,518.7 1413.5,518.4C1418.2,518.1 1423.0,518.0 1427.7,518.0C1432.4,518.0 1437.2,518.0 1441.9,518.3C1446.6,518.6 1451.3,519.0 1456.0,519.7C1460.7,520.4 1465.5,521.4 1470.2,522.5C1474.9,523.6 1479.7,525.0 1484.4,526.4C1489.1,527.8 1493.9,529.2 1498.6,530.7C1503.3,532.2 1508.1,533.7 1512.8,535.1C1517.5,536.5 1522.3,538.0 1527.0,539.3C1531.7,540.6 1535.7,541.7 1541.2,542.9C1546.7,544.1 1554.2,545.6 1560.0,546.7C1565.8,547.8 1570.6,548.9 1575.9,549.7C1581.2,550.5 1586.4,551.2 1591.7,551.6C1597.0,552.0 1602.3,552.3 1607.6,552.1C1612.9,551.9 1618.2,551.3 1623.5,550.5C1628.8,549.7 1634.1,548.5 1639.4,547.1C1644.7,545.7 1649.9,544.0 1655.2,542.1C1660.5,540.2 1665.8,537.8 1671.1,535.7C1676.4,533.6 1681.7,531.4 1687.0,529.4C1692.3,527.4 1697.6,525.3 1702.9,523.8C1708.2,522.3 1713.4,521.1 1718.7,520.2C1724.0,519.3 1729.3,519.0 1734.6,518.6C1739.9,518.2 1745.2,518.4 1750.5,517.9C1755.8,517.4 1761.0,517.0 1766.3,515.9C1771.6,514.8 1776.9,513.0 1782.2,511.1C1787.5,509.2 1792.8,506.9 1798.1,504.8C1803.4,502.7 1808.7,500.2 1814.0,498.4C1819.3,496.6 1824.5,495.2 1829.8,494.1C1835.1,493.1 1841.2,492.5 1845.7,492.1C1850.2,491.7 1855.1,491.7 1857.0,491.6" fill="none" stroke="#0ddc2d" stroke-width="4.1" stroke-linecap="round" stroke-linejoin="round"/>
<g font-family="Liberation Sans, sans-serif">
<text x="90.9" y="226.5" font-size="16.60" fill="#464646" text-anchor="start" font-weight="400" textLength="47.7" lengthAdjust="spacingAndGlyphs" stroke="#f4f5f7" stroke-width="0.4">1,200K</text>
<text x="1882.6" y="229.9" font-size="16.60" fill="#464646" text-anchor="start" font-weight="400" textLength="47.7" lengthAdjust="spacingAndGlyphs" stroke="#f4f5f7" stroke-width="0.4">1,200K</text>
<text x="88.6" y="306.5" font-size="16.60" fill="#464646" text-anchor="start" font-weight="400" textLength="50.0" lengthAdjust="spacingAndGlyphs" stroke="#f4f5f7" stroke-width="0.4">10,000</text>
<text x="1880.3" y="309.9" font-size="16.60" fill="#464646" text-anchor="start" font-weight="400" textLength="50.0" lengthAdjust="spacingAndGlyphs" stroke="#f4f5f7" stroke-width="0.4">10,000</text>
<text x="94.5" y="386.5" font-size="16.60" fill="#464646" text-anchor="start" font-weight="400" textLength="44.1" lengthAdjust="spacingAndGlyphs" stroke="#f4f5f7" stroke-width="0.4">5,000</text>
<text x="1886.2" y="389.9" font-size="16.60" fill="#464646" text-anchor="start" font-weight="400" textLength="44.1" lengthAdjust="spacingAndGlyphs" stroke="#f4f5f7" stroke-width="0.4">5,000</text>
<text x="103.3" y="466.5" font-size="16.60" fill="#464646" text-anchor="start" font-weight="400" textLength="35.3" lengthAdjust="spacingAndGlyphs" stroke="#f4f5f7" stroke-width="0.4">1000</text>
<text x="1895.0" y="469.9" font-size="16.60" fill="#464646" text-anchor="start" font-weight="400" textLength="35.3" lengthAdjust="spacingAndGlyphs" stroke="#f4f5f7" stroke-width="0.4">1000</text>
<text x="108.3" y="546.5" font-size="16.60" fill="#464646" text-anchor="start" font-weight="400" textLength="30.3" lengthAdjust="spacingAndGlyphs" stroke="#f4f5f7" stroke-width="0.4">500</text>
<text x="1900.0" y="549.9" font-size="16.60" fill="#464646" text-anchor="start" font-weight="400" textLength="30.3" lengthAdjust="spacingAndGlyphs" stroke="#f4f5f7" stroke-width="0.4">500</text>
<text x="108.3" y="626.5" font-size="16.60" fill="#464646" text-anchor="start" font-weight="400" textLength="30.3" lengthAdjust="spacingAndGlyphs" stroke="#f4f5f7" stroke-width="0.4">500</text>
<text x="1900.0" y="629.9" font-size="16.60" fill="#464646" text-anchor="start" font-weight="400" textLength="30.3" lengthAdjust="spacingAndGlyphs" stroke="#f4f5f7" stroke-width="0.4">500</text>
<text x="129.4" y="706.5" font-size="16.60" fill="#464646" text-anchor="start" font-weight="400" textLength="9.2" lengthAdjust="spacingAndGlyphs" stroke="#f4f5f7" stroke-width="0.4">0</text>
<text x="1921.1" y="709.9" font-size="16.60" fill="#464646" text-anchor="start" font-weight="400" textLength="9.2" lengthAdjust="spacingAndGlyphs" stroke="#f4f5f7" stroke-width="0.4">0</text>
<text x="235.9" y="733.8" font-size="15.80" fill="#7d7d7d" text-anchor="start" font-weight="400" textLength="30.7" lengthAdjust="spacingAndGlyphs" >Jan</text>
<text x="379.6" y="733.8" font-size="15.80" fill="#7d7d7d" text-anchor="start" font-weight="400" textLength="30.8" lengthAdjust="spacingAndGlyphs" >Feb</text>
<text x="522.5" y="733.8" font-size="15.80" fill="#7d7d7d" text-anchor="start" font-weight="400" textLength="32.5" lengthAdjust="spacingAndGlyphs" >Mar</text>
<text x="668.4" y="733.8" font-size="15.80" fill="#7d7d7d" text-anchor="start" font-weight="400" textLength="29.5" lengthAdjust="spacingAndGlyphs" >Apr</text>
<text x="809.2" y="733.8" font-size="15.80" fill="#7d7d7d" text-anchor="start" font-weight="400" textLength="35.8" lengthAdjust="spacingAndGlyphs" >May</text>
<text x="955.9" y="733.8" font-size="15.80" fill="#7d7d7d" text-anchor="start" font-weight="400" textLength="30.7" lengthAdjust="spacingAndGlyphs" >Jun</text>
<text x="1103.0" y="733.8" font-size="15.80" fill="#7d7d7d" text-anchor="start" font-weight="400" textLength="24.6" lengthAdjust="spacingAndGlyphs" >Jul</text>
<text x="1242.5" y="733.8" font-size="15.80" fill="#7d7d7d" text-anchor="start" font-weight="400" textLength="33.3" lengthAdjust="spacingAndGlyphs" >Aug</text>
<text x="1386.7" y="733.8" font-size="15.80" fill="#7d7d7d" text-anchor="start" font-weight="400" textLength="32.4" lengthAdjust="spacingAndGlyphs" >Sep</text>
<text x="1531.7" y="733.8" font-size="15.80" fill="#7d7d7d" text-anchor="start" font-weight="400" textLength="30.4" lengthAdjust="spacingAndGlyphs" >Oct</text>
<text x="1675.0" y="733.8" font-size="15.80" fill="#7d7d7d" text-anchor="start" font-weight="400" textLength="32.0" lengthAdjust="spacingAndGlyphs" >Nov</text>
<text x="1818.8" y="733.8" font-size="15.80" fill="#7d7d7d" text-anchor="start" font-weight="400" textLength="32.0" lengthAdjust="spacingAndGlyphs" >Dec</text>
</g>
</svg>
<svg width="2016" height="1176" viewBox="0 0 2016 1176" style="position:absolute;left:0;top:0;will-change:transform">
<g font-family="Liberation Sans, sans-serif">
<text x="77.2" y="64.0" font-size="13.90" fill="#343434" text-anchor="start" font-weight="700" textLength="241.6" lengthAdjust="spacing" >CLOUDES DATA VISUALISATION</text>
<text x="1044.2" y="62.9" font-size="15.20" fill="#b4bfcd" text-anchor="start" font-weight="400" textLength="179.0" lengthAdjust="spacingAndGlyphs" >Finance Proformance</text>
<text x="1271.5" y="62.9" font-size="15.20" fill="#101010" text-anchor="start" font-weight="400" textLength="131.4" lengthAdjust="spacingAndGlyphs" >CEO Comment&#8217;s</text>
<text x="1449.5" y="64.3" font-size="15.20" fill="#b4bfcd" text-anchor="start" font-weight="400" textLength="167.6" lengthAdjust="spacingAndGlyphs" >Insight &amp; Statement</text>
<text x="1669.2" y="64.3" font-size="15.20" fill="#b4bfcd" text-anchor="start" font-weight="400" textLength="65.6" lengthAdjust="spacingAndGlyphs" >Projects</text>
<text x="87.6" y="156.0" font-size="31.00" fill="#18273f" text-anchor="start" font-weight="400" textLength="121.5" lengthAdjust="spacingAndGlyphs" stroke="#f4f5f7" stroke-width="0.7">Backlog</text>
<text x="219.7" y="156.0" font-size="31.00" fill="#18273f" text-anchor="start" font-weight="400" textLength="20.8" lengthAdjust="spacingAndGlyphs" stroke="#f4f5f7" stroke-width="0.7">&amp;</text>
<text x="249.6" y="156.0" font-size="31.00" fill="#18273f" text-anchor="start" font-weight="700" textLength="135.3" lengthAdjust="spacingAndGlyphs" stroke="#f4f5f7" stroke-width="0.25">Forecast</text>
<text x="88.7" y="811.0" font-size="31.00" fill="#333" text-anchor="start" font-weight="400" textLength="135.0" lengthAdjust="spacingAndGlyphs" stroke="#f4f5f7" stroke-width="0.7">Forecast</text>
<text x="230.9" y="811.0" font-size="31.00" fill="#333" text-anchor="start" font-weight="700" textLength="145.5" lengthAdjust="spacingAndGlyphs" stroke="#f4f5f7" stroke-width="0.25">Overview</text>
<text x="1579.6" y="154.3" font-size="15.20" fill="#ffffff" text-anchor="start" font-weight="400" textLength="65.4" lengthAdjust="spacingAndGlyphs" >Monthly</text>
<text x="1696.8" y="154.3" font-size="15.20" fill="#7d7d7d" text-anchor="start" font-weight="400" textLength="50.3" lengthAdjust="spacingAndGlyphs" >Yearly</text>
<text x="1797.7" y="154.3" font-size="15.20" fill="#7d7d7d" text-anchor="start" font-weight="400" textLength="60.5" lengthAdjust="spacingAndGlyphs" >5 Years</text>
<text x="115.2" y="1093.2" font-size="9.50" fill="#4a4d8a" text-anchor="start" font-weight="700" textLength="167.5" lengthAdjust="spacing" >ORION DATA VISUALISATION</text>
<text x="1873.7" y="1093.2" font-size="9.50" fill="#4a4d8a" text-anchor="start" font-weight="700" textLength="27.3" lengthAdjust="spacing" >2019</text>
<circle cx="170.2" cy="929.2" r="48" fill="none" stroke="#dadfeb" stroke-width="3"/>
<path d="M174.97,881.44A48,48 0 1 1 146.35,887.55" fill="none" stroke="#0f90e0" stroke-width="7" stroke-linecap="round"/>
<path d="M164.3,907.5H175.7a.6,.6 0 0 1 .6,.6V911a1.95,1.95 0 0 0 0,3.8V917.7a.6,.6 0 0 1 -.6,.6H164.3a.5,.5 0 0 1 -.5,-.5V908a.5,.5 0 0 1 .5,-.5z" fill="#fdfeff" stroke="#1f9ff0" stroke-width="1.35" stroke-linejoin="round"/>
<path d="M168.4,907.4V918.6" stroke="#1f9ff0" stroke-width="1.7" stroke-dasharray="1.5 1.75" fill="none"/>
<text x="151.1" y="943.5" font-size="24.00" fill="#2a2a2a" text-anchor="start" font-weight="400" textLength="29.6" lengthAdjust="spacingAndGlyphs" stroke="#2a2a2a" stroke-width="0.75">89</text>
<text x="181.0" y="943.6" font-size="11.80" fill="#3c3c3c" text-anchor="start" font-weight="400" textLength="9.6" lengthAdjust="spacingAndGlyphs" stroke="#3c3c3c" stroke-width="0.25">%</text>
<text x="242.2" y="897.9" font-size="16.40" fill="#3a3c78" text-anchor="start" font-weight="400" textLength="76.6" lengthAdjust="spacingAndGlyphs" >Net Sales</text>
<text x="242.6" y="937.7" font-size="33.00" fill="#363a80" text-anchor="start" font-weight="700" textLength="117.2" lengthAdjust="spacingAndGlyphs" >$12,875</text>
<path d="M367.0,937.7l5.85,-7.7l5.85,7.7z" fill="#21b94b"/>
<text x="383.4" y="937.8" font-size="14.50" fill="#22c043" text-anchor="start" font-weight="400" textLength="25.6" lengthAdjust="spacingAndGlyphs" >10%</text>
<text x="242.4" y="969.6" font-size="14.60" fill="#9b9cc3" text-anchor="start" font-weight="400" textLength="203.3" lengthAdjust="spacingAndGlyphs" >Compared to $21,504 last year</text>
<circle cx="637.7" cy="929.2" r="48" fill="none" stroke="#dadfeb" stroke-width="3"/>
<path d="M642.47,881.44A48,48 0 1 1 613.85,887.55" fill="none" stroke="#a0bcc8" stroke-width="7" stroke-linecap="round"/>
<path d="M631.8,907.5H643.2a.6,.6 0 0 1 .6,.6V911a1.95,1.95 0 0 0 0,3.8V917.7a.6,.6 0 0 1 -.6,.6H631.8a.5,.5 0 0 1 -.5,-.5V908a.5,.5 0 0 1 .5,-.5z" fill="#fdfeff" stroke="#1f9ff0" stroke-width="1.35" stroke-linejoin="round"/>
<path d="M635.9,907.4V918.6" stroke="#1f9ff0" stroke-width="1.7" stroke-dasharray="1.5 1.75" fill="none"/>
<text x="618.6" y="943.5" font-size="24.00" fill="#2a2a2a" text-anchor="start" font-weight="400" textLength="29.6" lengthAdjust="spacingAndGlyphs" stroke="#2a2a2a" stroke-width="0.75">89</text>
<text x="648.5" y="943.6" font-size="11.80" fill="#3c3c3c" text-anchor="start" font-weight="400" textLength="9.6" lengthAdjust="spacingAndGlyphs" stroke="#3c3c3c" stroke-width="0.25">%</text>
<text x="709.7" y="897.9" font-size="16.40" fill="#3a3c78" text-anchor="start" font-weight="400" textLength="66.0" lengthAdjust="spacingAndGlyphs" >Backlog</text>
<text x="710.1" y="937.7" font-size="33.00" fill="#363a80" text-anchor="start" font-weight="700" textLength="117.2" lengthAdjust="spacingAndGlyphs" >$12,875</text>
<path d="M834.5,937.7l5.85,-7.7l5.85,7.7z" fill="#21b94b"/>
<text x="850.9" y="937.8" font-size="14.50" fill="#22c043" text-anchor="start" font-weight="400" textLength="25.6" lengthAdjust="spacingAndGlyphs" >10%</text>
<text x="709.9" y="969.6" font-size="14.60" fill="#9b9cc3" text-anchor="start" font-weight="400" textLength="203.3" lengthAdjust="spacingAndGlyphs" >Compared to $21,504 last year</text>
<circle cx="1105.2" cy="929.2" r="48" fill="none" stroke="#dadfeb" stroke-width="3"/>
<path d="M1109.97,881.44A48,48 0 1 1 1081.35,887.55" fill="none" stroke="#8a8b91" stroke-width="7" stroke-linecap="round"/>
<path d="M1099.3,907.5H1110.7a.6,.6 0 0 1 .6,.6V911a1.95,1.95 0 0 0 0,3.8V917.7a.6,.6 0 0 1 -.6,.6H1099.3a.5,.5 0 0 1 -.5,-.5V908a.5,.5 0 0 1 .5,-.5z" fill="#fdfeff" stroke="#1f9ff0" stroke-width="1.35" stroke-linejoin="round"/>
<path d="M1103.4,907.4V918.6" stroke="#1f9ff0" stroke-width="1.7" stroke-dasharray="1.5 1.75" fill="none"/>
<text x="1086.1" y="943.5" font-size="24.00" fill="#2a2a2a" text-anchor="start" font-weight="400" textLength="29.6" lengthAdjust="spacingAndGlyphs" stroke="#2a2a2a" stroke-width="0.75">89</text>
<text x="1116.0" y="943.6" font-size="11.80" fill="#3c3c3c" text-anchor="start" font-weight="400" textLength="9.6" lengthAdjust="spacingAndGlyphs" stroke="#3c3c3c" stroke-width="0.25">%</text>
<text x="1177.2" y="897.9" font-size="16.40" fill="#3a3c78" text-anchor="start" font-weight="400" textLength="136.8" lengthAdjust="spacingAndGlyphs" >Orders Received</text>
<text x="1177.6" y="937.7" font-size="33.00" fill="#363a80" text-anchor="start" font-weight="700" textLength="117.2" lengthAdjust="spacingAndGlyphs" >$12,875</text>
<path d="M1302.0,937.7l5.85,-7.7l5.85,7.7z" fill="#21b94b"/>
<text x="1318.4" y="937.8" font-size="14.50" fill="#22c043" text-anchor="start" font-weight="400" textLength="25.6" lengthAdjust="spacingAndGlyphs" >10%</text>
<text x="1177.4" y="969.6" font-size="14.60" fill="#9b9cc3" text-anchor="start" font-weight="400" textLength="203.3" lengthAdjust="spacingAndGlyphs" >Compared to $21,504 last year</text>
<circle cx="1572.7" cy="929.2" r="48" fill="none" stroke="#dadfeb" stroke-width="3"/>
<path d="M1577.47,881.44A48,48 0 1 1 1548.85,887.55" fill="none" stroke="#e3ae6e" stroke-width="7" stroke-linecap="round"/>
<path d="M1566.8,907.5H1578.2a.6,.6 0 0 1 .6,.6V911a1.95,1.95 0 0 0 0,3.8V917.7a.6,.6 0 0 1 -.6,.6H1566.8a.5,.5 0 0 1 -.5,-.5V908a.5,.5 0 0 1 .5,-.5z" fill="#fdfeff" stroke="#1f9ff0" stroke-width="1.35" stroke-linejoin="round"/>
<path d="M1570.9,907.4V918.6" stroke="#1f9ff0" stroke-width="1.7" stroke-dasharray="1.5 1.75" fill="none"/>
<text x="1553.6" y="943.5" font-size="24.00" fill="#2a2a2a" text-anchor="start" font-weight="400" textLength="29.6" lengthAdjust="spacingAndGlyphs" stroke="#2a2a2a" stroke-width="0.75">89</text>
<text x="1583.5" y="943.6" font-size="11.80" fill="#3c3c3c" text-anchor="start" font-weight="400" textLength="9.6" lengthAdjust="spacingAndGlyphs" stroke="#3c3c3c" stroke-width="0.25">%</text>
<text x="1644.7" y="897.9" font-size="16.40" fill="#3a3c78" text-anchor="start" font-weight="400" textLength="99.2" lengthAdjust="spacingAndGlyphs" >Sales Offers</text>
<text x="1645.1" y="937.7" font-size="33.00" fill="#363a80" text-anchor="start" font-weight="700" textLength="117.2" lengthAdjust="spacingAndGlyphs" >$12,875</text>
<path d="M1769.5,937.7l5.85,-7.7l5.85,7.7z" fill="#21b94b"/>
<text x="1785.9" y="937.8" font-size="14.50" fill="#22c043" text-anchor="start" font-weight="400" textLength="25.6" lengthAdjust="spacingAndGlyphs" >10%</text>
<text x="1644.9" y="969.6" font-size="14.60" fill="#9b9cc3" text-anchor="start" font-weight="400" textLength="203.3" lengthAdjust="spacingAndGlyphs" >Compared to $21,504 last year</text>
</g>
<g fill="none" stroke="#989ad4" stroke-width="1.8">
<circle cx="948.3" cy="58.3" r="5.9" stroke-width="1.6"/><path d="M952.6,62.6L956.2,66.2" stroke-width="1.6"/>
<circle cx="1846" cy="55" r="4.9"/>
<path d="M1838.9,70v-2a4,4 0 0 1 4,-4h6.2a4,4 0 0 1 4,4v2"/>
<path d="M1886,52H1906M1886,59H1906M1886,66H1906"/>
<g fill="#fff" stroke-width="1.5"><circle cx="1893" cy="52" r="2"/><circle cx="1899" cy="59" r="2"/><circle cx="1893" cy="66" r="2"/></g>
</g>
</svg>
</body></html>
